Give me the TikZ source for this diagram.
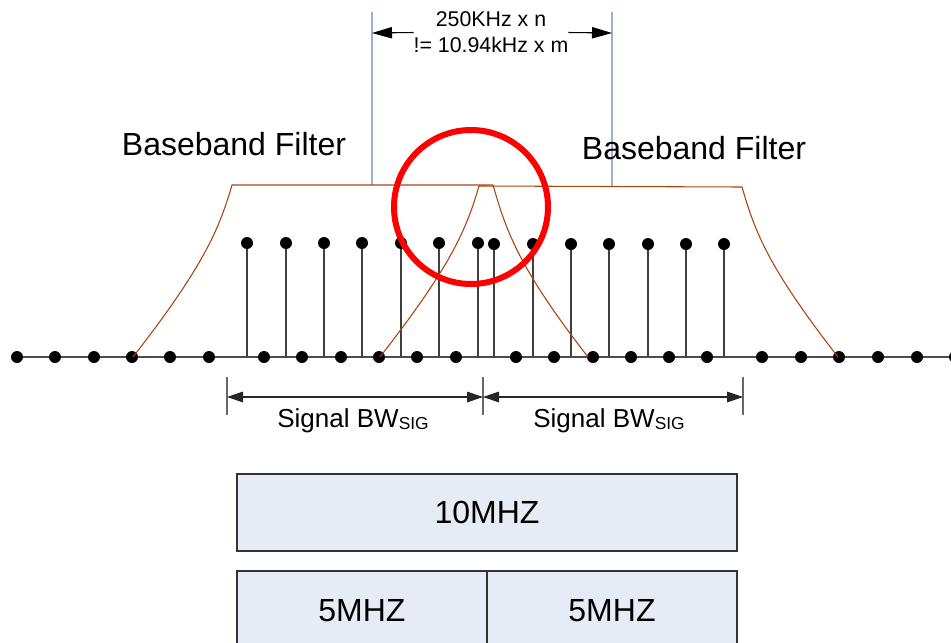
\documentclass[tikz,border=0pt]{standalone}
\usepackage{fontspec}
\setmainfont{Liberation Sans}
\usetikzlibrary{arrows.meta,positioning}
\definecolor{filterline}{RGB}{168,68,18}
\definecolor{markline}{RGB}{150,178,216}
\definecolor{bandfill}{RGB}{230,236,246}

\begin{document}
\begin{tikzpicture}[x=0.75pt,y=-0.75pt,outer sep=0pt,inner sep=0pt]
        \tikzset{sample/.style={circle,fill=black,minimum size=9pt}}
        \tikzset{stem/.style={draw=black!75,line width=1.1pt}}
        \tikzset{filter/.style={draw=filterline,line width=0.8pt}}
        \tikzset{marker/.style={draw=markline,line width=1pt}}
        \tikzset{toparrow/.style={-{Triangle[length=15pt,width=8.5pt]},draw=black,line width=0.8pt}}
        \tikzset{bwarrow/.style={{Triangle[length=12pt,width=8pt]}-{Triangle[length=12pt,width=8pt]},draw=black!85,line width=0.8pt}}
        \tikzset{bwlabel/.style={anchor=base,font=\fontsize{19.5}{23}\selectfont}}
        \tikzset{filterlabel/.style={anchor=base,font=\fontsize{24}{28}\selectfont}}
        \tikzset{bandbox/.style={draw=black!80,line width=1pt,fill=bandfill,minimum width=375pt,minimum height=57.75pt,font=\fontsize{24}{28}\selectfont}}
        \tikzset{halfband/.style={bandbox,minimum width=187.5pt,minimum height=60pt}}

        \useasboundingbox (0,0) rectangle (951,643);
        \clip (0,0) rectangle (951,643);

        % spacing marks on top
        \coordinate (mL1) at (372,12);
        \coordinate (mL2) at (372,185);
        \coordinate (mL3) at (372,33);
        \coordinate (mR1) at (612,12);
        \coordinate (mR2) at (612,187);
        \coordinate (mR3) at (612,33);
        \draw[marker] (mL1) -- (mL2);
        \draw[marker] (mR1) -- (mR2);
        \node [align=center,font=\fontsize{16}{19.5}\selectfont] (spacing) at (491,32.5) {250KHz x n\\!= 10.94kHz x m};
        \draw[toparrow] (spacing.west) -- (mL3);
        \draw[toparrow] (spacing.east) -- (mR3);

        \node [filterlabel] (lfilter) at (234,155) {Baseband Filter};
        \node [filterlabel] (rfilter) at (694,159) {Baseband Filter};

        % axis
        \coordinate (axisL) at (14,357);
        \coordinate (axisR) at (951,357);
        \draw[black!70,line width=1.1pt] (axisL) -- (axisR);

        % signal samples
        \foreach \x [count=\i] in {247,286,324,362,401,439,478} {
            \node [sample] (s\i) at (\x,243) {};
            \coordinate (sf\i) at (\x,357);
            \draw[stem] (s\i) -- (sf\i);
        }
        \foreach \x [count=\i] in {494,533,571,609,648,686,724} {
            \node [sample] (t\i) at (\x,244) {};
            \coordinate (tf\i) at (\x,357);
            \draw[stem] (t\i) -- (tf\i);
        }
        \foreach \x [count=\i] in {17,55,94,132,170,209,264,302,341,379,417,456,516,554,593,631,669,707,762,801,839,878,917,955}
            \node [sample] (a\i) at (\x,357) {};

        % baseband filters
        \coordinate (lfA) at (133,357);
        \coordinate (lfB) at (232,185);
        \coordinate (lfC) at (493,185);
        \coordinate (lfD) at (588,357);
        \draw[filter] (lfA) .. controls (203,267) and (219,230) .. (lfB) -- (lfC) .. controls (506,230) and (518,267) .. (lfD);
        \coordinate (rfA) at (380,357);
        \coordinate (rfB) at (479,186);
        \coordinate (rfC) at (742,187);
        \coordinate (rfD) at (838,357);
        \draw[filter] (rfA) .. controls (450,267) and (466,231) .. (rfB) -- (rfC) .. controls (755,232) and (768,267) .. (rfD);

        \node [circle,draw=red,line width=4.5pt,minimum size=115.5pt] (overlap) at (471,207) {};

        % signal bandwidths
        \coordinate (bwA) at (227,397);
        \coordinate (bwB) at (483,397);
        \coordinate (bwC) at (743,397);
        \foreach \c in {bwA,bwB,bwC}
            \draw[black!60,line width=0.8pt] ([yshift=15pt]\c) -- ([yshift=-13.5pt]\c);
        \draw[bwarrow] (bwA) -- (bwB);
        \draw[bwarrow] (bwB) -- (bwC);
        \node [bwlabel] (bwleft) at (353,427) {Signal BW\raisebox{-1.5pt}{\fontsize{13}{13}\selectfont SIG}};
        \node [bwlabel] (bwright) at (609,427) {Signal BW\raisebox{-1.5pt}{\fontsize{13}{13}\selectfont SIG}};

        % channel boxes
        \node [bandbox] (wide) at (487,512.5) {10MHZ};
        \node [halfband,below right=15pt and 0pt of wide.south west] (lowleft) {5MHZ};
        \node [halfband,right=0pt of lowleft] (lowright) {5MHZ};
\end{tikzpicture}
\end{document}
